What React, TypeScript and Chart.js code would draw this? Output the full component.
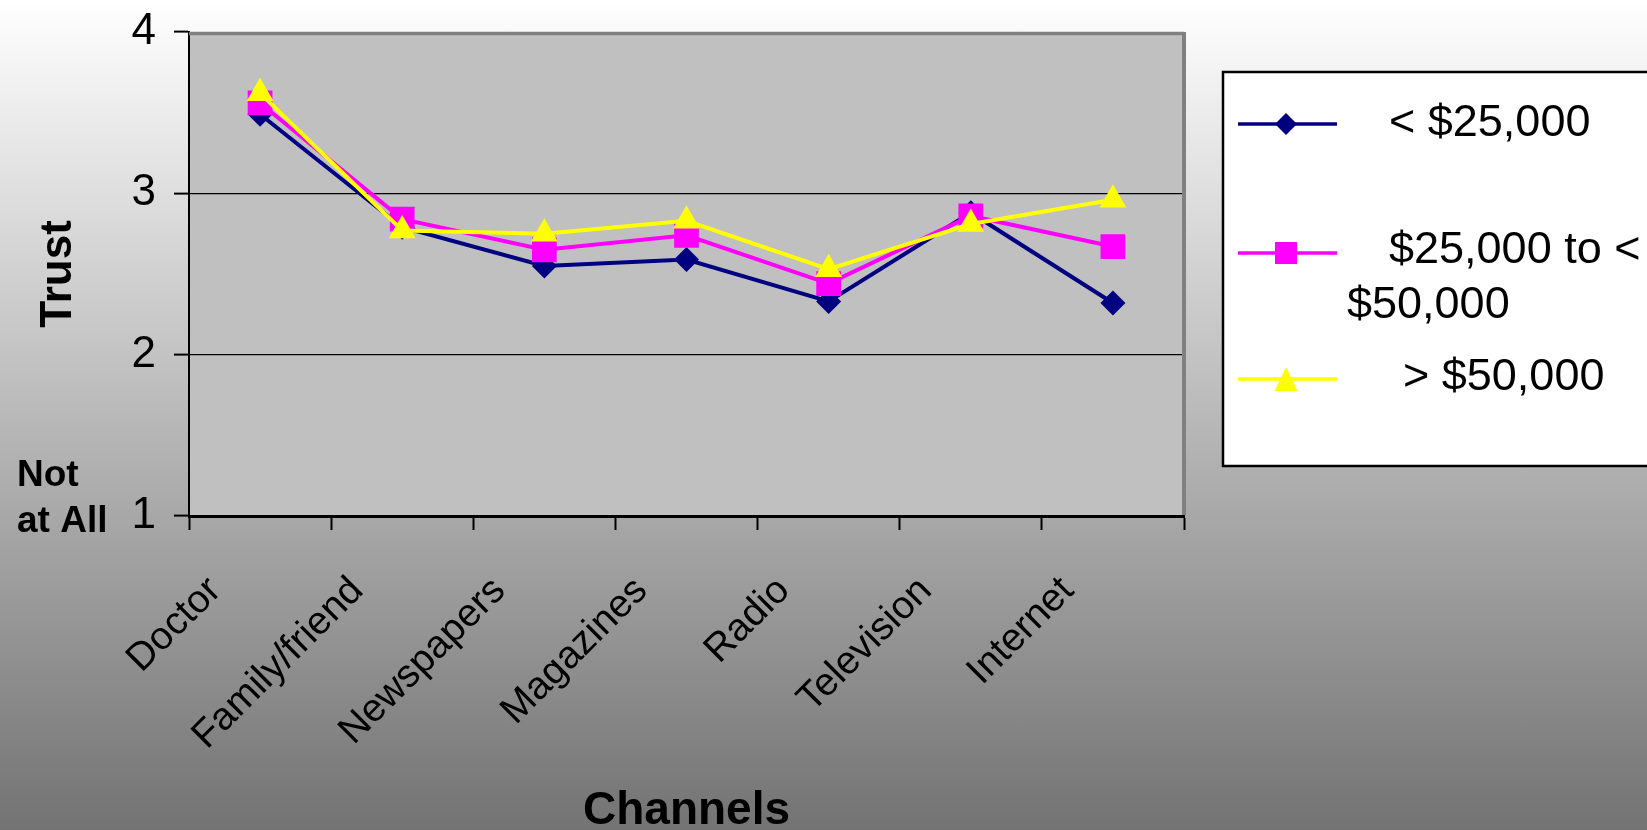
import React, { useEffect, useRef } from "react";
import { Chart, registerables } from "chart.js";

Chart.register(...registerables);

const categories = ["Doctor", "Family/friend", "Newspapers", "Magazines", "Radio", "Television", "Internet"];
const under25k = [3.49, 2.79, 2.55, 2.59, 2.33, 2.88, 2.32];
const from25kTo50k = [3.56, 2.84, 2.65, 2.74, 2.44, 2.86, 2.67];
const over50k = [3.62, 2.77, 2.75, 2.83, 2.53, 2.81, 2.96];
const seriesLabels = ["< $25,000", "$25,000 to < $50,000", "> $50,000"];
const yTickValues = [1, 2, 3, 4];
const yTitle = "Trust";
const xTitle = "Channels";
const yBottomNote = ["Not", "at All"];

const FONT = "'Liberation Sans', Arial, sans-serif";
const NAVY = "#000080";
const MAGENTA = "#FF00FF";
const YELLOW = "#FFFF00";

function drawMarker(ctx: CanvasRenderingContext2D, style: string, x: number, y: number, color: string) {
  ctx.save();
  ctx.fillStyle = color;
  ctx.beginPath();
  if (style === "rectRot") {
    const r = 11;
    ctx.moveTo(x, y - r);
    ctx.lineTo(x + r, y);
    ctx.lineTo(x, y + r);
    ctx.lineTo(x - r, y);
  } else if (style === "rect") {
    const s = 11;
    ctx.rect(x - s, y - s, 2 * s, 2 * s);
  } else {
    const w = 11.5;
    const h = 24;
    ctx.moveTo(x, y - h / 2);
    ctx.lineTo(x + w, y + h / 2);
    ctx.lineTo(x - w, y + h / 2);
  }
  ctx.closePath();
  ctx.fill();
  ctx.restore();
}

const framePlugin = {
  id: "frameAndLegend",
  beforeDraw(chart: any) {
    const { ctx, chartArea: a } = chart;
    ctx.save();
    ctx.fillStyle = "#C0C0C0";
    ctx.fillRect(a.left, a.top, a.right - a.left, a.bottom - a.top);
    ctx.restore();
  },
  beforeDatasetsDraw(chart: any) {
    const { ctx, chartArea: a } = chart;
    ctx.save();
    ctx.strokeStyle = "#808080";
    ctx.lineWidth = 3.5;
    ctx.beginPath();
    ctx.moveTo(a.left, a.top + 1.5);
    ctx.lineTo(a.right, a.top + 1.5);
    ctx.stroke();
    ctx.lineWidth = 4;
    ctx.beginPath();
    ctx.moveTo(a.right, a.top);
    ctx.lineTo(a.right, a.bottom - 1);
    ctx.stroke();
    ctx.restore();
  },
  afterDraw(chart: any) {
    const ctx: CanvasRenderingContext2D = chart.ctx;
    ctx.save();
    // "Not at All" note
    ctx.fillStyle = "#000";
    ctx.font = `bold 37px ${FONT}`;
    ctx.textAlign = "left";
    ctx.textBaseline = "alphabetic";
    ctx.fillText(yBottomNote[0], 17, 486);
    ctx.fillText(yBottomNote[1], 17, 532);

    // Legend box
    ctx.fillStyle = "#FFFFFF";
    ctx.fillRect(1223, 72, 440, 394);
    ctx.strokeStyle = "#000";
    ctx.lineWidth = 2.5;
    ctx.strokeRect(1223, 72, 440, 394);

    const rows = [
      { y: 124, lines: [{ t: seriesLabels[0], x: 1389, b: 136 }] },
      {
        y: 253,
        lines: [
          { t: seriesLabels[1].split(" ").slice(0, 3).join(" "), x: 1389, b: 263 },
          { t: seriesLabels[1].split(" ").slice(3).join(" "), x: 1347, b: 318 },
        ],
      },
      { y: 379, lines: [{ t: seriesLabels[2], x: 1403, b: 390 }] },
    ];
    const ds = chart.data.datasets;
    ctx.font = `45px ${FONT}`;
    rows.forEach((row, i) => {
      const d = ds[i];
      ctx.strokeStyle = d.borderColor;
      ctx.lineWidth = 3.5;
      ctx.beginPath();
      ctx.moveTo(1238, row.y);
      ctx.lineTo(1337, row.y);
      ctx.stroke();
      drawMarker(ctx, d.pointStyle, 1286, row.y, d.borderColor);
      ctx.fillStyle = "#000";
      row.lines.forEach((l) => ctx.fillText(l.t, l.x, l.b));
    });
    ctx.restore();
  },
};

export default function App() {
  const ref = useRef<HTMLCanvasElement | null>(null);

  useEffect(() => {
    if (!ref.current) return;
    const chart = new Chart(ref.current, {
      type: "line",
      data: {
        labels: categories,
        datasets: [
          {
            label: seriesLabels[0],
            data: under25k,
            borderColor: NAVY,
            backgroundColor: NAVY,
            pointBackgroundColor: NAVY,
            pointBorderColor: NAVY,
            pointStyle: "rectRot",
            pointRadius: 12.5,
            pointBorderWidth: 0,
            borderWidth: 4,
            order: 3,
          },
          {
            label: seriesLabels[1],
            data: from25kTo50k,
            borderColor: MAGENTA,
            backgroundColor: MAGENTA,
            pointBackgroundColor: MAGENTA,
            pointBorderColor: MAGENTA,
            pointStyle: "rect",
            pointRadius: 17.5,
            pointBorderWidth: 0,
            borderWidth: 4,
            order: 2,
          },
          {
            label: seriesLabels[2],
            data: over50k,
            borderColor: YELLOW,
            backgroundColor: YELLOW,
            pointBackgroundColor: YELLOW,
            pointBorderColor: YELLOW,
            pointStyle: "triangle",
            pointRadius: 15.5,
            pointBorderWidth: 0,
            borderWidth: 4,
            order: 1,
          },
        ],
      },
      options: {
        animation: false,
        responsive: false,
        maintainAspectRatio: false,
        layout: { padding: { top: 32, right: 463, bottom: 0, left: 0 } },
        plugins: {
          legend: { display: false },
          tooltip: { enabled: false },
          title: { display: false },
        },
        scales: {
          x: {
            type: "category",
            offset: true,
            grid: {
              display: true,
              drawOnChartArea: false,
              drawTicks: true,
              tickLength: 14,
              tickColor: "#000",
              tickWidth: 2,
              offset: true,
            },
            border: { display: true, color: "#000", width: 3 },
            ticks: {
              autoSkip: false,
              maxRotation: 45,
              minRotation: 45,
              color: "#000",
              font: { family: FONT, size: 39 },
              padding: 38,
              labelOffset: -45,
            },
            title: {
              display: true,
              text: xTitle,
              color: "#000",
              font: { family: FONT, size: 46, weight: "bold", lineHeight: 0.83 },
              padding: { top: 0, bottom: 0 },
            },
            afterFit(scale: any) {
              scale.height = 314;
              scale.paddingTop = 0;
              scale.paddingBottom = 0;
              scale.paddingLeft = 0;
              scale.paddingRight = 0;
            },
          },
          y: {
            min: yTickValues[0],
            max: yTickValues[yTickValues.length - 1],
            afterBuildTicks(scale: any) {
              scale.ticks = yTickValues.map((v) => ({ value: v }));
            },
            ticks: {
              stepSize: 1,
              color: "#000",
              font: { family: FONT, size: 44 },
              padding: 18,
            },
            grid: {
              color: (c: any) =>
                c.tick && (c.tick.value === 2 || c.tick.value === 3) ? "#000" : "rgba(0,0,0,0)",
              lineWidth: 1.2,
              tickColor: "#000",
              tickLength: 15,
              tickWidth: 2,
            },
            border: { display: true, color: "#000", width: 2 },
            title: {
              display: true,
              text: yTitle,
              color: "#000",
              font: { family: FONT, size: 44, weight: "bold" },
              padding: { top: 32, bottom: 0 },
            },
            afterFit(scale: any) {
              scale.width = 189;
              scale.paddingTop = 0;
              scale.paddingBottom = 0;
              scale.paddingLeft = 0;
              scale.paddingRight = 0;
            },
          },
        },
      },
      plugins: [framePlugin],
    });
    return () => chart.destroy();
  }, []);

  return (
    <div
      style={{
        position: "absolute",
        left: 0,
        top: 0,
        width: 1647,
        height: 830,
        background: "linear-gradient(to bottom, #ffffff 0%, #737373 100%)",
        overflow: "hidden",
      }}
    >
      <canvas ref={ref} width={1647} height={830} style={{ display: "block", width: 1647, height: 830 }} />
    </div>
  );
}
